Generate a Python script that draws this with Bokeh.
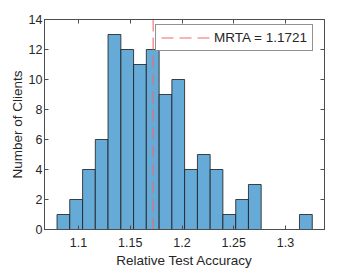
from bokeh.plotting import figure
from bokeh.models import (LinearAxis, FixedTicker, Range1d, Legend, LegendItem,
                          CustomLabelingPolicy)
from bokeh.embed import file_html
from bokeh.resources import INLINE

# Histogram data
bin_edges = [1.0792, 1.0915, 1.1039, 1.1162, 1.1285, 1.1409, 1.1532, 1.1655,
             1.1779, 1.1902, 1.2025, 1.2149, 1.2272, 1.2395, 1.2519, 1.2642,
             1.2765, 1.2889, 1.3012, 1.3135, 1.3259]
counts = [1, 2, 4, 6, 13, 12, 11, 12, 9, 10, 4, 5, 4, 1, 2, 3, 0, 0, 0, 1]
mrta = 1.1721
mrta_label = "MRTA = 1.1721"
x_ticks = [1.1, 1.15, 1.2, 1.25, 1.3]
x_tick_labels = ["1.1", "1.15", "1.2", "1.25", "1.3"]
y_ticks = [0, 2, 4, 6, 8, 10, 12, 14]
x_lim = (1.0671, 1.3377)
y_lim = (0, 14)
x_title = "Relative Test Accuracy"
y_title = "Number of Clients"

FONT = "Liberation Sans"
TXT = "#262626"
AX = "#4d4d4d"

FRAME_H = 210
p = figure(frame_width=280, frame_height=FRAME_H, output_backend="svg", toolbar_location=None,
           x_range=Range1d(*x_lim), y_range=Range1d(*y_lim),
           min_border_left=0, min_border_top=0, min_border_right=0, min_border_bottom=0)
p.margin = (0, 0, 0, 6)
p.grid.visible = False
p.outline_line_color = AX
p.outline_line_width = 1
p.background_fill_color = "white"
p.border_fill_color = "white"

p.quad(left=bin_edges[:-1], right=bin_edges[1:], top=counts, bottom=0,
       fill_color="#66AAD7", line_color="#1a1a1a", line_width=0.8)

ln = p.line(x=[mrta, mrta], y=[y_lim[0], y_lim[1]], line_color="#F26B6B",
            line_width=1.1, line_dash="12 6")

xa = p.xaxis[0]
xa.ticker = FixedTicker(ticks=x_ticks)
xa.major_label_overrides = {t: l for t, l in zip(x_ticks, x_tick_labels)}
ya = p.yaxis[0]
ya.ticker = FixedTicker(ticks=y_ticks)
xa.axis_label = x_title
ya.axis_label = y_title

for ax in (xa, ya):
    ax.axis_line_color = AX
    ax.major_tick_line_color = AX
    ax.major_tick_in = 4
    ax.major_tick_out = 0
    ax.minor_tick_line_color = None
    ax.major_label_text_font = FONT
    ax.major_label_text_font_size = "12.5px"
    ax.major_label_text_color = TXT
    ax.axis_label_text_font = FONT
    ax.axis_label_text_font_size = "13.5px"
    ax.axis_label_text_font_style = "normal"
    ax.axis_label_text_color = TXT
xa.major_label_standoff = 8
xa.axis_label_standoff = 3
ya.major_label_standoff = 2
ya.axis_label_standoff = 1

no_labels = CustomLabelingPolicy(code="return new Set()")
top_ax = LinearAxis(ticker=FixedTicker(ticks=x_ticks), major_label_policy=no_labels,
                    axis_line_color=AX, major_tick_line_color=AX, major_tick_in=4,
                    major_tick_out=0, minor_tick_line_color=None, major_label_standoff=8)
right_ax = LinearAxis(ticker=FixedTicker(ticks=y_ticks), major_label_policy=no_labels,
                      axis_line_color=AX, major_tick_line_color=AX, major_tick_in=4,
                      major_tick_out=0, minor_tick_line_color=None, major_label_standoff=0)
p.add_layout(top_ax, "above")
p.add_layout(right_ax, "right")

legend = Legend(items=[LegendItem(label=mrta_label, renderers=[ln])],
                location=(111, FRAME_H - 8 - 24), orientation="vertical",
                glyph_width=50, glyph_height=15, label_standoff=3,
                padding=5, spacing=0, margin=0,
                label_text_font=FONT, label_text_font_size="13.5px", label_text_color=TXT,
                border_line_color="#262626", border_line_width=1,
                background_fill_color="white", background_fill_alpha=1)
p.add_layout(legend, "center")

open("out.html", "w").write(file_html(p, INLINE))
